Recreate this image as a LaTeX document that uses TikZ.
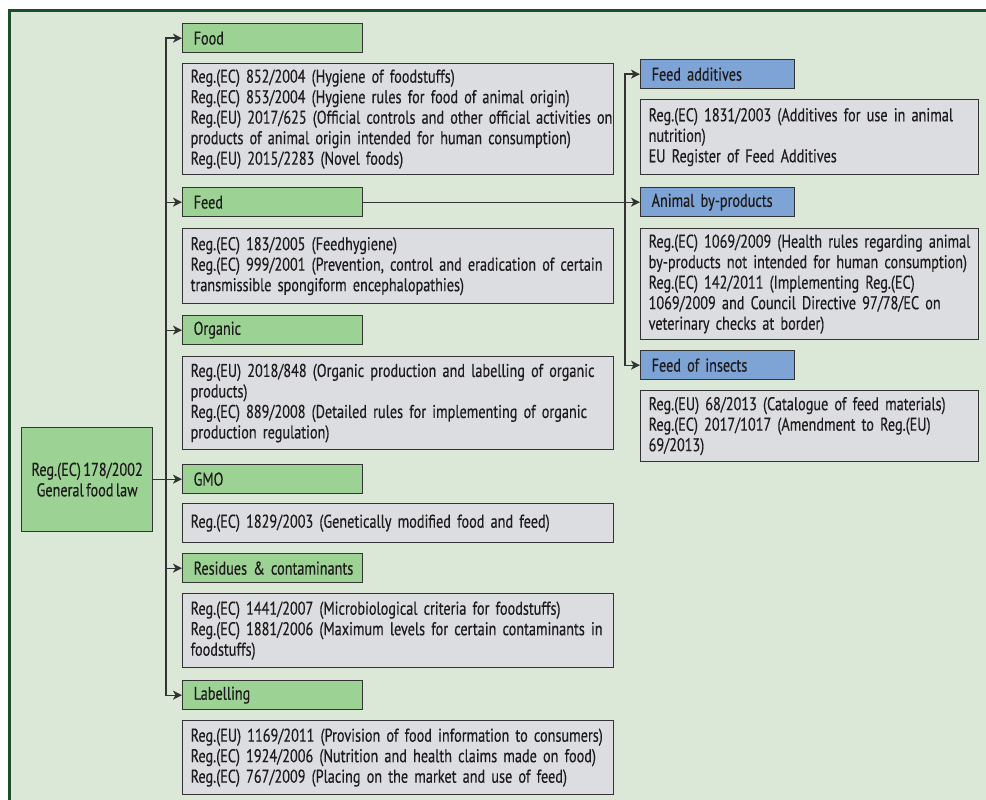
\documentclass[tikz,border=0pt]{standalone}
\usepackage{fontspec}
\setmainfont{PT Sans}[FakeStretch=0.77, WordSpace=0.65, FakeBold=0.4]
\usetikzlibrary{arrows.meta}
\hyphenpenalty=10000
\exhyphenpenalty=10000
\newcommand{\lne}[1]{\mbox{#1}}
\definecolor{bgg}{HTML}{DCE8D7}
\definecolor{frameg}{HTML}{1C4E2C}
\definecolor{hdrg}{HTML}{9CD294}
\definecolor{hdrb}{HTML}{7EA3D5}
\definecolor{boxg}{HTML}{DCDDE0}
\definecolor{ink}{HTML}{1E1B1C}
\definecolor{edge}{HTML}{333333}
\tikzset{
  base/.style={draw=edge, line width=1.3pt, rectangle, anchor=north west, text=ink,
     font=\fontsize{18.5}{20.5}\selectfont},
  hdr/.style={base, fill=hdrg, minimum height=29pt, inner xsep=11pt, inner ysep=0pt, text width=158pt, align=left},
  hdrblue/.style={hdr, fill=hdrb, text width=132pt},
  txt/.style={base, fill=boxg, inner xsep=8pt, inner ysep=0pt, text width=415pt, align=left},
  rtxt/.style={txt, text width=322pt},
  arr/.style={draw=edge, line width=1.3pt, -{Stealth[length=9pt,width=9pt,inset=2.5pt]}},
}
\begin{document}
\begin{tikzpicture}[x=1pt,y=-1pt]
\useasboundingbox (0,0) rectangle (986,800);
\fill[white] (0,0) rectangle (986,800);
\filldraw[fill=bgg, draw=frameg, line width=3pt] (9.5,10.5) rectangle (1000,810);
% left column
\node[hdr] (food) at (182,23) {Food};
\node[txt, minimum height=111pt] (foodt) at (182,63) {\lne{Reg.(EC) 852/2004 (Hygiene of foodstuffs)}\\\lne{Reg.(EC) 853/2004 (Hygiene rules for food of animal origin)}\\\lne{Reg.(EU) 2017/625 (Official controls and other official activities on}\\\lne{products of animal origin intended for human consumption)}\\\lne{Reg.(EU) 2015/2283 (Novel foods)}};
\node[hdr] (feed) at (182,187) {Feed};
\node[txt, minimum height=75pt] (feedt) at (182,228) {\lne{Reg.(EC) 183/2005 (Feedhygiene)}\\\lne{Reg.(EC) 999/2001 (Prevention, control and eradication of certain}\\\lne{transmissible spongiform encephalopathies)}};
\node[hdr] (org) at (182,315) {Organic};
\node[txt, minimum height=93pt] (orgt) at (182,356) {\lne{Reg.(EU) 2018/848 (Organic production and labelling of organic}\\\lne{products)}\\\lne{Reg.(EC) 889/2008 (Detailed rules for implementing of organic}\\\lne{production regulation)}};
\node[hdr] (gmo) at (182,464) {GMO};
\node[txt, minimum height=39pt] (gmot) at (182,503) {\lne{Reg.(EC) 1829/2003 (Genetically modified food and feed)}};
\node[hdr] (res) at (182,553) {\lne{Residues \& contaminants}};
\node[txt, minimum height=74pt] (rest) at (182,593) {\lne{Reg.(EC) 1441/2007 (Microbiological criteria for foodstuffs)}\\\lne{Reg.(EC) 1881/2006 (Maximum levels for certain contaminants in}\\\lne{foodstuffs)}};
\node[hdr] (lab) at (182,680) {Labelling};
\node[txt, minimum height=74pt] (labt) at (182,720) {\lne{Reg.(EU) 1169/2011 (Provision of food information to consumers)}\\\lne{Reg.(EC) 1924/2006 (Nutrition and health claims made on food)}\\\lne{Reg.(EC) 767/2009 (Placing on the market and use of feed)}};
% general
\node[base, fill=hdrg, minimum width=131pt, minimum height=104pt, align=center, inner sep=0pt] (gen) at (21,427) {Reg.(EC) 178/2002\\General food law};
% right column
\node[hdrblue] (fa) at (640,59) {Feed additives};
\node[rtxt, minimum height=75pt] (fat) at (640,99) {\lne{Reg.(EC) 1831/2003 (Additives for use in animal}\\\lne{nutrition)}\\\lne{EU Register of Feed Additives}};
\node[hdrblue] (abp) at (640,187) {Animal by-products};
\node[rtxt, minimum height=111pt] (abpt) at (640,228) {\lne{Reg.(EC) 1069/2009 (Health rules regarding animal}\\\lne{by-products not intended for human consumption)}\\\lne{Reg.(EC) 142/2011 (Implementing Reg.(EC)}\\\lne{1069/2009 and Council Directive 97/78/EC on}\\\lne{veterinary checks at border)}};
\node[hdrblue] (ins) at (640,350) {Feed of insects};
\node[rtxt, minimum height=71pt] (inst) at (640,390) {\lne{Reg.(EU) 68/2013 (Catalogue of feed materials)}\\\lne{Reg.(EC) 2017/1017 (Amendment to Reg.(EU)}\\\lne{69/2013)}};
% connectors
\coordinate (tr) at (166,0);
\coordinate (rt) at (625,0);
\draw[arr] (lab.west -| tr) |- (food.west);
\draw[arr] (food.west -| tr) |- (lab.west);
\draw[arr] (feed.west -| tr) -- (feed.west);
\draw[arr] (org.west -| tr) -- (org.west);
\draw[arr] (res.west -| tr) -- (res.west);
\draw[arr] (gen.east |- gmo.west) -- (gmo.west);
\draw[arr] (feed.east) -- (abp.west);
\draw[arr] (ins.west -| rt) |- (fa.west);
\draw[arr] (fa.west -| rt) |- (ins.west);
\end{tikzpicture}
\end{document}
